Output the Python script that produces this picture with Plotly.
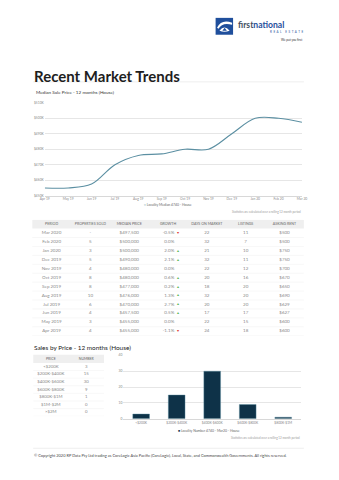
import plotly.graph_objects as go

# ---------------- data ----------------
months = ["Apr 19", "May 19", "Jun 19", "Jul 19", "Aug 19", "Sep 19",
          "Oct 19", "Nov 19", "Dec 19", "Jan 20", "Feb 20", "Mar 20"]
median_price = [455000, 455000, 457500, 470000, 476000, 477000,
                480000, 480000, 490000, 500000, 500000, 497500]
price_ticks = [450000, 460000, 470000, 480000, 490000, 500000, 510000]
price_tick_labels = ["$450K", "$460K", "$470K", "$480K", "$490K", "$500K", "$510K"]

table_headers = ["PERIOD", "PROPERTIES SOLD", "MEDIAN PRICE", "GROWTH",
                 "DAYS ON MARKET", "LISTINGS", "ASKING RENT"]
periods = ["Mar 2020", "Feb 2020", "Jan 2020", "Dec 2019", "Nov 2019", "Oct 2019",
           "Sep 2019", "Aug 2019", "Jul 2019", "Jun 2019", "May 2019", "Apr 2019"]
props_sold = ["-", "5", "3", "5", "4", "8", "8", "10", "6", "4", "3", "4"]
growth = [-0.5, 0.0, 2.0, 2.1, 0.0, 0.6, 0.2, 1.3, 2.7, 0.5, 0.0, -1.1]
days_on_market = [22, 32, 21, 32, 22, 20, 18, 32, 20, 17, 22, 24]
listings = [11, 7, 10, 11, 12, 16, 20, 20, 20, 17, 15, 18]
asking_rent = ["$500", "$500", "$750", "$750", "$700", "$670",
               "$650", "$690", "$629", "$627", "$600", "$600"]

price_headers = ["PRICE", "NUMBER"]
price_bands = ["<$200K", "$200K-$400K", "$400K-$600K", "$600K-$800K",
               "$800K-$1M", "$1M-$2M", ">$2M"]
band_counts = [3, 15, 30, 9, 1, 0, 0]
bar_bands = price_bands[:5]
bar_counts = band_counts[:5]

# ---------------- styling ----------------
W, H = 339, 480
FONT = "Lato"
LINE_COLOR = "#5b8fa2"
BAR_COLOR = "#0e3248"
GREY_TXT = "#8a8a8a"
HEAD_TXT = "#666666"
UP, DOWN = "#5cb85c", "#e0403a"


def py(px):
    return 1 - px / H


median_text = [f"${v:,}" for v in reversed(median_price)]
growth_text = [f"{g:.1f}%" for g in growth]
arrow_text = ["▲" if g > 0 else ("▼" if g < 0 else "") for g in growth]
arrow_col = [UP if g > 0 else DOWN for g in growth]

fig = go.Figure()

# ---- line chart ----
fig.add_trace(go.Scatter(
    x=months, y=median_price, mode="lines",
    line=dict(shape="spline", color=LINE_COLOR, width=1.1),
    xaxis="x", yaxis="y", hoverinfo="skip"))

# ---- main table (text on its own hidden axes x4/y4) ----
n = len(periods)
rows = list(range(n))
body_cols = [periods, props_sold, median_text, None, days_on_market, listings, asking_rent]
body_font = dict(size=4.5, color=GREY_TXT, family=FONT)
for j, col in enumerate(body_cols):
    if col is None:
        continue
    fig.add_trace(go.Scatter(x=[j] * n, y=rows, mode="text", text=[str(v) for v in col],
                             textposition="middle center", textfont=body_font,
                             xaxis="x4", yaxis="y4", hoverinfo="skip"))
# growth value + arrow
fig.add_trace(go.Scatter(x=[3.16] * n, y=rows, mode="text", text=growth_text,
                         textposition="middle left", textfont=body_font,
                         xaxis="x4", yaxis="y4", hoverinfo="skip"))
fig.add_trace(go.Scatter(x=[3.26] * n, y=rows, mode="text", text=arrow_text,
                         textposition="middle center",
                         textfont=dict(size=3.6, color=arrow_col, family=FONT),
                         xaxis="x4", yaxis="y4", hoverinfo="skip"))
# header
fig.add_trace(go.Scatter(x=list(range(len(table_headers))), y=[-1] * len(table_headers),
                         mode="text", text=table_headers, textposition="middle center",
                         textfont=dict(size=3.6, color=HEAD_TXT, family=FONT),
                         xaxis="x4", yaxis="y4", hoverinfo="skip"))

# ---- small table (x5/y5) ----
m = len(price_bands)
fig.add_trace(go.Scatter(x=[0] * m, y=list(range(m)), mode="text", text=price_bands,
                         textposition="middle center",
                         textfont=dict(size=4.3, color=GREY_TXT, family=FONT),
                         xaxis="x5", yaxis="y5", hoverinfo="skip"))
fig.add_trace(go.Scatter(x=[1] * m, y=list(range(m)), mode="text", text=[str(c) for c in band_counts],
                         textposition="middle center",
                         textfont=dict(size=4.3, color=GREY_TXT, family=FONT),
                         xaxis="x5", yaxis="y5", hoverinfo="skip"))
fig.add_trace(go.Scatter(x=[0, 1], y=[-1.05, -1.05], mode="text", text=price_headers,
                         textposition="middle center",
                         textfont=dict(size=3.5, color=HEAD_TXT, family=FONT),
                         xaxis="x5", yaxis="y5", hoverinfo="skip"))

# ---- bar chart ----
fig.add_trace(go.Bar(
    x=bar_bands, y=bar_counts, marker=dict(color=BAR_COLOR, line=dict(color="#5b8fa2", width=0.4)),
    xaxis="x2", yaxis="y2", hoverinfo="skip"))

tick_font = dict(size=3.3, color="#8a8a8a", family=FONT)
hidden = dict(visible=False, fixedrange=True, showgrid=False, zeroline=False)

# main table geometry: row i centre at 233 + 9 i px
T_ROW, T_C0 = 9, 233
t_top_px, t_bot_px = T_C0 - 1.5 * T_ROW, T_C0 + (n - 0.5) * T_ROW
# small table geometry
S_ROW, S_C0 = 7.67, 367.8
s_top_px, s_bot_px = S_C0 - 1.6 * S_ROW, S_C0 + (m - 0.5) * S_ROW

fig.update_layout(
    width=W, height=H, margin=dict(l=0, r=0, t=0, b=0),
    paper_bgcolor="white", plot_bgcolor="rgba(0,0,0,0)", showlegend=False,
    font=dict(family=FONT, color="#555"),
    bargap=0.53,
    xaxis=dict(domain=[41 / W, 306 / W], anchor="y", type="category", range=[0, 11],
               showgrid=False, showline=True, linecolor="#d8d8d8", linewidth=0.6,
               ticks="", tickfont=tick_font, fixedrange=True),
    yaxis=dict(domain=[py(195.3), py(101.7)], anchor="x", range=[450000, 510000],
               tickvals=price_ticks, ticktext=price_tick_labels,
               showgrid=True, gridcolor="#e6e6e6", gridwidth=0.6, zeroline=False,
               showline=False, ticks="", tickfont=tick_font, fixedrange=True),
    xaxis2=dict(domain=[122 / W, 305 / W], anchor="y2", type="category",
                showgrid=False, showline=True, linecolor="#d8d8d8", linewidth=0.6,
                ticks="", tickfont=tick_font, fixedrange=True),
    yaxis2=dict(domain=[py(420.3), py(356.3)], anchor="x2", range=[0, 40], dtick=10,
                showgrid=True, gridcolor="#e6e6e6", gridwidth=0.6, zeroline=False,
                ticks="", tickfont=tick_font, fixedrange=True),
    xaxis3=dict(domain=[0, 1], anchor="y3", range=[0, W], **hidden),
    yaxis3=dict(domain=[0, 1], anchor="x3", range=[H, 0], **hidden),
    xaxis4=dict(domain=[28 / W, 308 / W], anchor="y4", range=[-0.5, 6.5], **hidden),
    yaxis4=dict(domain=[py(t_bot_px), py(t_top_px)], anchor="x4", range=[n - 0.5, -1.5], **hidden),
    xaxis5=dict(domain=[29 / W, 102 / W], anchor="y5", range=[-0.5, 1.5], **hidden),
    yaxis5=dict(domain=[py(s_bot_px), py(s_top_px)], anchor="x5", range=[m - 0.5, -1.6], **hidden),
)

shapes = []
shapes.append(dict(type="rect", xref="x4", yref="y4", x0=-0.5, x1=6.5, y0=-1.5, y1=-0.5,
                   fillcolor="#efefef", line=dict(width=0), layer="below"))
for i in range(n):
    shapes.append(dict(type="line", xref="x4", yref="y4", x0=-0.5, x1=6.5, y0=i + 0.5, y1=i + 0.5,
                       line=dict(color="#efefef", width=0.5), layer="below"))
shapes.append(dict(type="rect", xref="x5", yref="y5", x0=-0.5, x1=1.5, y0=-1.6, y1=-0.5,
                   fillcolor="#efefef", line=dict(width=0), layer="below"))
for i in range(m):
    shapes.append(dict(type="line", xref="x5", yref="y5", x0=-0.5, x1=1.5, y0=i + 0.5, y1=i + 0.5,
                       line=dict(color="#f1f1f1", width=0.5), layer="below"))
shapes.append(dict(type="line", xref="x3", yref="y3", x0=29, x1=308, y0=80.5, y1=80.5,
                   line=dict(color="#e6e6e6", width=0.7)))
shapes.append(dict(type="line", xref="x3", yref="y3", x0=29, x1=308, y0=450, y1=450,
                   line=dict(color="#e6e6e6", width=0.7)))
# logo icon
shapes.append(dict(type="rect", xref="x3", yref="y3", x0=217, x1=235, y0=16, y1=33,
                   fillcolor="#1f4f9c", line=dict(width=0)))
shapes.append(dict(type="path", xref="x3", yref="y3",
                   path="M 218.5,26 Q 223,17 234,21 L 234,23 Q 224,20 220,27 Z",
                   fillcolor="white", line=dict(width=0)))
shapes.append(dict(type="path", xref="x3", yref="y3",
                   path="M 221,29 Q 226,22.5 231.5,29 Q 226,31 221,29 Z",
                   fillcolor="white", line=dict(width=0)))
shapes.append(dict(type="path", xref="x3", yref="y3",
                   path="M 224,29 L 226.3,26 L 228.6,29 Z",
                   fillcolor="#1f4f9c", line=dict(width=0)))
fig.update_layout(shapes=shapes)

ann = []


def note(x, y, text, size, color="#333", xanchor="left", weight=None, family=FONT):
    f = dict(size=size, color=color, family=family)
    if weight:
        f["weight"] = weight
    ann.append(dict(xref="x3", yref="y3", x=x, y=y, text=text, showarrow=False,
                    xanchor=xanchor, yanchor="middle", font=f, borderpad=0))


note(29, 74.5, "Recent Market Trends", 15, "#1e1e1e", weight=700)
note(31, 91, "Median Sale Price - 12 months (House)", 4.6, "#333")
note(167, 204.5, f"<span style='color:{LINE_COLOR}'>━</span> Locality Median 4740 - House",
     3.4, "#666", xanchor="center")
note(306, 212, "Statistics are calculated over a rolling 12 month period", 2.9, "#999", xanchor="right")
note(29, 348, "Sales by Price - 12 months (House)", 6.4, "#222")
note(210, 432.5, f"<span style='color:{BAR_COLOR}'>■</span> Locality Number 4740 - Mar20 - House",
     3.4, "#666", xanchor="center")
note(305, 439.5, "Statistics are calculated over a rolling 12 month period", 2.9, "#999", xanchor="right")
note(29, 457.5, "© Copyright 2020 RP Data Pty Ltd trading as CoreLogic Asia Pacific (CoreLogic), "
     "Local, State, and Commonwealth Governments. All rights reserved.", 3.95, "#444")
note(239.5, 23.5, "<span style='color:#44505f'>first</span><span style='color:#1f4f9c'>national</span>",
     8.6, "#1f4f9c", weight=700)
note(308.5, 30.5, "R  E  A  L     E  S  T  A  T  E", 3.0, "#1f4f9c", xanchor="right")
note(308.5, 38.5, "We put you first", 3.0, "#333", xanchor="right")
fig.update_layout(annotations=ann)

fig.write_html("out.html")
